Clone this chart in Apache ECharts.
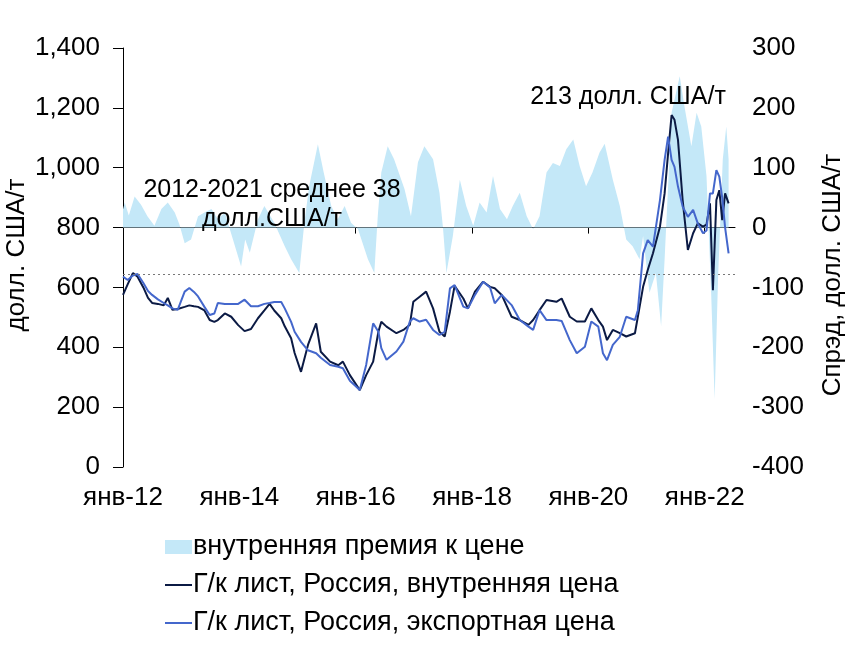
<!DOCTYPE html>
<html>
<head>
<meta charset="utf-8">
<script src="https://cdn.jsdelivr.net/npm/echarts@6/dist/echarts.min.js"></script>
<style>
  html, body { margin: 0; padding: 0; background: #fff; }
  #chart { width: 852px; height: 652px; }
</style>
</head>
<body>
<div id="chart"></div>
<script>
// ---- data (decimal years) ----
const tickYears = [2012, 2014, 2016, 2018, 2020, 2022];
const tickLabels = ['янв-12', 'янв-14', 'янв-16', 'янв-18', 'янв-20', 'янв-22'];

const priceDates = [2012.00, 2012.08, 2012.17, 2012.25, 2012.35, 2012.43, 2012.50, 2012.60, 2012.70, 2012.77, 2012.85, 2012.94,
  2013.06, 2013.14, 2013.22, 2013.29, 2013.40, 2013.49, 2013.57, 2013.63, 2013.75, 2013.86, 2013.98,
  2014.09, 2014.20, 2014.32, 2014.43, 2014.52, 2014.60, 2014.72, 2014.78, 2014.89, 2014.95,
  2015.06, 2015.18, 2015.32, 2015.40, 2015.56, 2015.70, 2015.78, 2015.90,
  2016.07, 2016.18, 2016.30, 2016.39, 2016.44, 2016.53, 2016.70, 2016.82, 2016.93, 2016.99,
  2017.10, 2017.21, 2017.33, 2017.44, 2017.53, 2017.62, 2017.70, 2017.85, 2017.93,
  2018.05, 2018.19, 2018.31, 2018.39, 2018.51, 2018.68, 2018.82, 2018.97,
  2019.05, 2019.16, 2019.28, 2019.45, 2019.54, 2019.68, 2019.80, 2019.94,
  2020.05, 2020.17, 2020.25, 2020.32, 2020.42, 2020.54, 2020.65, 2020.80, 2020.85, 2020.94,
  2021.02, 2021.11, 2021.23, 2021.31, 2021.37, 2021.43, 2021.48, 2021.54, 2021.62, 2021.71, 2021.80, 2021.88, 2021.97,
  2022.03, 2022.09, 2022.14, 2022.20, 2022.25, 2022.30, 2022.35, 2022.41];

const domestic = [575, 610, 648, 636, 600, 565, 548, 545, 540, 565, 525, 528,
  535, 540, 537, 535, 523, 491, 485, 491, 513, 502, 474,
  454, 461, 497, 523, 545, 523, 497, 470, 430, 381,
  318, 408, 480, 385, 352, 340, 352, 307,
  257, 307, 352, 452, 485, 469, 447, 458, 475, 552,
  569, 586, 530, 452, 436, 519, 605, 563, 530,
  586, 619, 602, 597, 575, 502, 491, 475,
  491, 524, 558, 552, 563, 502, 486, 486,
  530, 491, 469, 424, 458, 447, 436, 447, 502, 602,
  658, 714, 803, 914, 1048, 1176, 1160, 1093, 892, 725, 781, 814, 803,
  810, 881, 591, 892, 925, 825, 914, 881];

const exportPrice = [636, 625, 640, 645, 615, 588, 575, 560, 548, 540, 530, 525,
  586, 598, 585, 570, 535, 508, 513, 548, 545, 545, 545,
  559, 537, 537, 545, 548, 551, 551, 530, 485, 452,
  418, 390, 380, 365, 341, 335, 330, 288,
  257, 341, 480, 452, 397, 358, 386, 419, 486, 497,
  486, 492, 458, 441, 452, 597, 608, 536, 530,
  575, 619, 600, 547, 575, 541, 491, 469,
  458, 524, 491, 491, 488, 424, 380, 402,
  486, 469, 380, 357, 408, 435, 502, 491, 524, 714,
  758, 736, 892, 1026, 1104, 1026, 1003, 937, 870, 836, 859, 814, 781,
  790, 914, 914, 992, 970, 900, 800, 714];

const premiumDates = [2012.00, 2012.03, 2012.10, 2012.20, 2012.31, 2012.42, 2012.54, 2012.66, 2012.77, 2012.89, 2012.97,
  2013.06, 2013.17, 2013.29, 2013.40, 2013.52, 2013.63, 2013.75, 2013.89,
  2014.03, 2014.10, 2014.18, 2014.32, 2014.43, 2014.60, 2014.78, 2014.89,
  2015.03, 2015.12, 2015.20, 2015.35, 2015.45, 2015.58, 2015.69, 2015.81, 2015.92,
  2016.04, 2016.21, 2016.32, 2016.38, 2016.44, 2016.55, 2016.66, 2016.84, 2016.95,
  2017.07, 2017.18, 2017.33, 2017.44, 2017.50, 2017.56, 2017.67, 2017.79, 2017.90,
  2018.02, 2018.13, 2018.25, 2018.36, 2018.48, 2018.60, 2018.70, 2018.82, 2018.94,
  2019.05, 2019.16, 2019.28, 2019.39, 2019.51, 2019.62, 2019.74, 2019.85, 2019.96,
  2020.07, 2020.19, 2020.28, 2020.42, 2020.54, 2020.65, 2020.76, 2020.88, 2020.94,
  2021.05, 2021.16, 2021.25, 2021.31, 2021.43, 2021.57, 2021.65, 2021.77, 2021.86, 2021.94,
  2022.03, 2022.11, 2022.17, 2022.23, 2022.31, 2022.37, 2022.41];

const premium = [30, 42, 20, 52, 38, 19, 3, 31, 42, 25, 5,
  -26, -20, 19, 25, 31, 14, 25, -20,
  -65, -20, -42, 14, 36, 8, -31, -53,
  -76, 10, 69, 139, 92, 36, 14, 36, 8,
  -3, -53, -76, 20, 92, 136, 114, 64, 19,
  109, 136, 114, 58, 0, -76, -14, 80, 36,
  3, 42, 25, 86, 31, 14, 36, 58, 19,
  -3, 19, 92, 108, 103, 131, 147, 103, 69,
  92, 125, 140, 80, 36, -20, -31, -53, -14,
  -109, -76, -165, -53, 192, 253, 203, 136, 192, 169,
  86, -109, -287, -81, 114, 169, 114];

const averageLevel = 645;

const seriesNames = ['внутренняя премия к цене', 'Г/к лист, Россия, внутренняя цена', 'Г/к лист, Россия, экспортная цена'];

// ---- chart ----
const FONT = '"Liberation Sans", Arial, sans-serif';
const zip = (xs, ys) => xs.map((x, i) => [x, ys[i]]);

const chart = echarts.init(document.getElementById('chart'), null, { renderer: 'canvas' });

const option = {
  animation: false,
  backgroundColor: '#ffffff',
  textStyle: { fontFamily: FONT },
  grid: { left: 123, right: 117, top: 48, bottom: 185, containLabel: false },
  xAxis: [
    {
      type: 'value', min: 2012, max: 2022.52, position: 'bottom',
      axisLine: { show: false }, axisTick: { show: false }, splitLine: { show: false },
      axisLabel: {
        customValues: tickYears,
        formatter: v => { const i = tickYears.indexOf(Math.round(v)); return i >= 0 ? tickLabels[i] : ''; },
        color: '#000', fontSize: 26, fontFamily: FONT, margin: 18
      }
    },
    {
      type: 'value', min: 2012, max: 2022.52, position: 'bottom',
      axisLine: { show: true, onZero: true, onZeroAxisIndex: 1, lineStyle: { color: '#000', width: 1 } },
      axisTick: { show: true, customValues: tickYears, length: 6, inside: false, lineStyle: { color: '#000', width: 1 } },
      axisLabel: { show: false }, splitLine: { show: false }
    }
  ],
  yAxis: [
    {
      type: 'value', min: 0, max: 1400, interval: 200, position: 'left',
      axisLine: { show: true, lineStyle: { color: '#000', width: 1 } },
      axisTick: { show: true, length: 10, inside: false, lineStyle: { color: '#000' } },
      splitLine: { show: false },
      axisLabel: { color: '#000', fontSize: 26, fontFamily: FONT, margin: 23 }
    },
    {
      type: 'value', min: -400, max: 300, interval: 100, position: 'right',
      axisLine: { show: false }, axisTick: { show: false }, splitLine: { show: false },
      axisLabel: { color: '#000', fontSize: 26, fontFamily: FONT, margin: 17 }
    }
  ],
  legend: {
    orient: 'vertical', left: 160, top: 527, itemGap: 8, itemWidth: 27, itemHeight: 14,
    textStyle: { color: '#000', fontSize: 27, fontFamily: FONT, lineHeight: 30, padding: [0, 0, 0, -4] },
    data: [
      { name: seriesNames[0], icon: 'rect', itemStyle: { color: '#c4e8f8' } },
      { name: seriesNames[1], icon: 'path://M0,0 L27,0 L27,2 L0,2 Z', itemStyle: { color: '#0b1a44' } },
      { name: seriesNames[2], icon: 'path://M0,0 L27,0 L27,2 L0,2 Z', itemStyle: { color: '#4467cc' } }
    ]
  },
  series: [
    {
      name: seriesNames[0], type: 'line', xAxisIndex: 0, yAxisIndex: 1,
      data: zip(premiumDates, premium), showSymbol: false, symbol: 'none',
      lineStyle: { width: 0, color: '#c4e8f8' }, itemStyle: { color: '#c4e8f8' },
      areaStyle: { color: '#c4e8f8', opacity: 1 }, z: 1
    },
    {
      name: seriesNames[1], type: 'line', xAxisIndex: 0, yAxisIndex: 0,
      data: zip(priceDates, domestic), showSymbol: false, symbol: 'none',
      lineStyle: { width: 2, color: '#0b1a44' }, itemStyle: { color: '#0b1a44' }, z: 3,
      markLine: {
        silent: true, symbol: 'none', label: { show: false },
        lineStyle: { type: [2, 3], color: '#777', width: 1 },
        data: [{ yAxis: averageLevel }]
      }
    },
    {
      name: seriesNames[2], type: 'line', xAxisIndex: 0, yAxisIndex: 0,
      data: zip(priceDates, exportPrice), showSymbol: false, symbol: 'none',
      lineStyle: { width: 2, color: '#4467cc' }, itemStyle: { color: '#4467cc' }, z: 4
    }
  ],
  graphic: [
    { type: 'text', x: 17, y: 255, rotation: Math.PI / 2, z: 10,
      style: { text: 'долл. США/т', font: '26px ' + FONT, fill: '#000', align: 'center', verticalAlign: 'middle' } },
    { type: 'text', x: 833, y: 275, rotation: Math.PI / 2, z: 10,
      style: { text: 'Спрэд, долл. США/т', font: '26px ' + FONT, fill: '#000', align: 'center', verticalAlign: 'middle' } },
    { type: 'text', x: 272, y: 190, z: 10,
      style: { text: '2012-2021 среднее 38', font: '25px ' + FONT, fill: '#000', align: 'center', verticalAlign: 'middle' } },
    { type: 'text', x: 272, y: 219, z: 10,
      style: { text: 'долл.США/т', font: '25px ' + FONT, fill: '#000', align: 'center', verticalAlign: 'middle' } },
    { type: 'text', x: 628, y: 97, z: 10,
      style: { text: '213 долл. США/т', font: '25px ' + FONT, fill: '#000', align: 'center', verticalAlign: 'middle' } }
  ]
};

chart.setOption(option);
</script>
</body>
</html>
